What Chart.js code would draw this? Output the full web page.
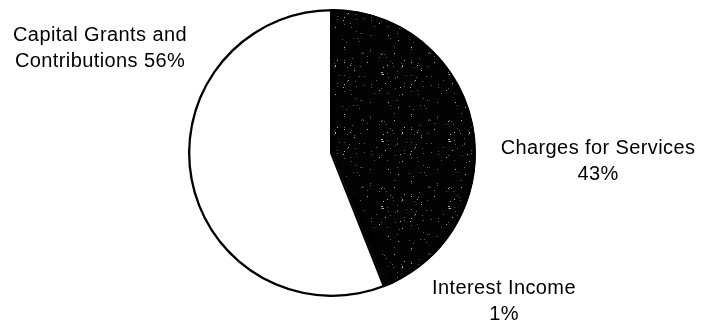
<!DOCTYPE html>
<html>
<head>
<meta charset="utf-8">
<script src="https://cdn.jsdelivr.net/npm/chart.js@4/dist/chart.umd.min.js"></script>
<style>
  html, body { margin: 0; padding: 0; background: #fff; }
  #wrap { width: 701px; height: 325px; }
</style>
</head>
<body>
<div id="wrap"><canvas id="pie" width="701" height="325"></canvas></div>
<script>
'use strict';

// revenue shares, clockwise from 12 o'clock
const categories = ['Charges for Services', 'Interest Income', 'Capital Grants and Contributions'];
const shares = [43, 1, 56];
const labelLines = [
  ['Charges for Services', '43%'],
  ['Interest Income', '1%'],
  ['Capital Grants and', 'Contributions 56%'],
];

// dark stipple fill (black with sparse light specks)
function stipplePattern() {
  const n = 67;
  const c = document.createElement('canvas');
  c.width = n; c.height = n;
  const g = c.getContext('2d');
  g.fillStyle = '#030303';
  g.fillRect(0, 0, n, n);
  let h = 7;
  for (let y = 0; y < n; y++) {
    for (let x = 0; x < n; x++) {
      h = (h * 1103515245 + 12345) & 0x7fffffff;
      if ((h >> 4) % 1000 < 14) {
        g.fillStyle = (h >> 12) % 3 ? '#5a5a5a' : '#b0b0b0';
        g.fillRect(x, y, 1, 1);
      }
    }
  }
  return g.createPattern(c, 'repeat');
}

const speck = stipplePattern();

// label placement per slice: [x, y of first line]
const LABEL_POS = [[598, 148], [504, 288], [100, 35]];

const pieLabels = {
  id: 'pieLabels',
  afterDraw(chart) {
    const ctx = chart.ctx;
    ctx.save();
    ctx.fillStyle = '#000';
    ctx.font = "20px 'Liberation Sans', Arial, sans-serif";
    ctx.letterSpacing = '0.4px';
    ctx.textAlign = 'center';
    ctx.textBaseline = 'middle';
    labelLines.forEach((lines, i) => {
      const [x, y] = LABEL_POS[i];
      lines.forEach((t, j) => ctx.fillText(t, x, y + j * 26));
    });
    ctx.restore();
  },
};

new Chart(document.getElementById('pie'), {
  type: 'pie',
  data: {
    labels: categories,
    datasets: [{
      data: shares,
      backgroundColor: [speck, '#030303', '#ffffff'],
      borderColor: '#000',
      borderWidth: 2,
      borderAlign: 'inner',
    }],
  },
  options: {
    responsive: false,
    animation: false,
    layout: { padding: { left: 188, right: 225, top: 9, bottom: 28 } },
    plugins: {
      legend: { display: false },
      tooltip: { enabled: false },
    },
  },
  plugins: [pieLabels],
});
</script>
</body>
</html>
